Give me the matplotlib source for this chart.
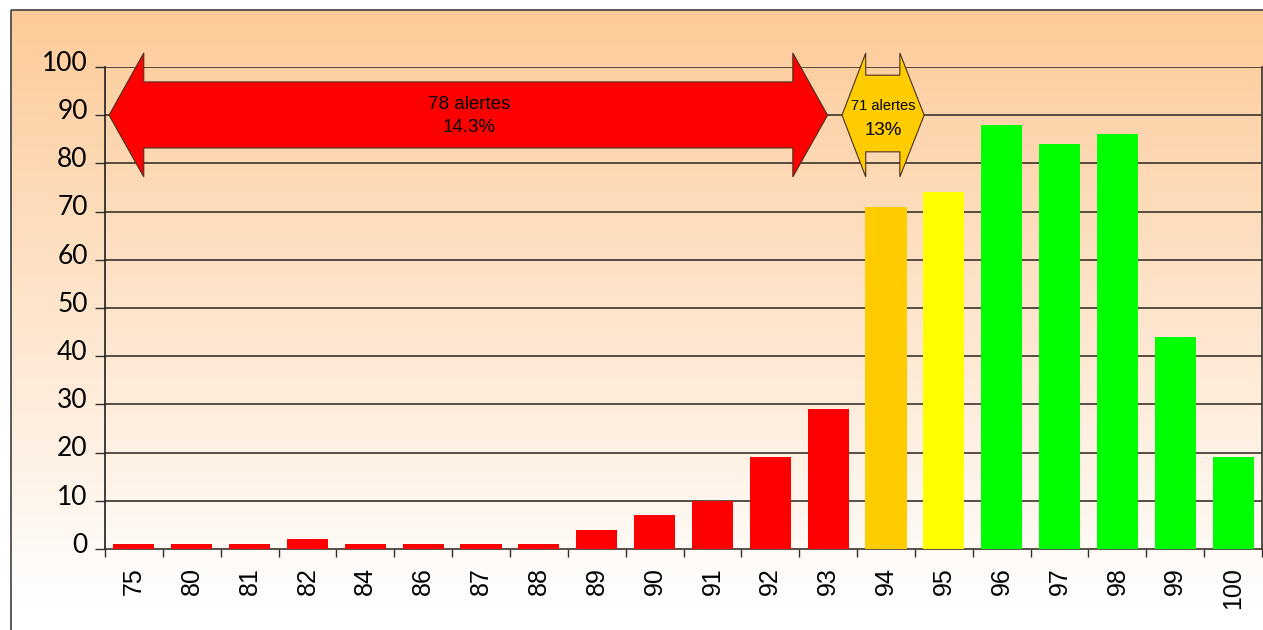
import matplotlib
matplotlib.use("Agg")
import matplotlib.pyplot as plt
import matplotlib.transforms as mtransforms
from matplotlib.patches import Polygon, Rectangle
import numpy as np

categories = ["75", "80", "81", "82", "84", "86", "87", "88", "89", "90",
              "91", "92", "93", "94", "95", "96", "97", "98", "99", "100"]
counts = [1, 1, 1, 2, 1, 1, 1, 1, 4, 7, 10, 19, 29, 71, 74, 88, 84, 86, 44, 19]
bar_colors = ["#FF0000"] * 13 + ["#FFCC00", "#FFFF00"] + ["#00FF00"] * 5
yticks = [0, 10, 20, 30, 40, 50, 60, 70, 80, 90, 100]
red_label = "78 alertes\n14.3%"
yellow_label_top = "71 alertes"
yellow_label_bottom = "13%"

W, H = 1263, 630
fig = plt.figure(figsize=(W / 100, H / 100), dpi=100)
fig.patch.set_facecolor("white")

# Background frame with gradient
bg = fig.add_axes([0, 0, 1, 1])
bg.set_xlim(0, W)
bg.set_ylim(H, 0)
bg.axis("off")
top_c = np.array([253, 203, 153]) / 255.0
bot_c = np.array([255, 255, 255]) / 255.0
t = np.linspace(0, 1, 256)[:, None]
grad = top_c[None, :] * (1 - t) + bot_c[None, :] * t
img = np.repeat(grad[:, None, :], 2, axis=1)
bg.imshow(img, extent=[11, W + 5, 610, 10], aspect="auto", zorder=0)
bg.add_patch(Rectangle((11, 10), W + 20, 700, fill=False, edgecolor="#404040", lw=1.2, zorder=1))

# Main axes
x0, x1 = 105, 1262
y_top, y_bot = 67, 549
ax = fig.add_axes([x0 / W, 1 - y_bot / H, (x1 - x0) / W, (y_bot - y_top) / H])
ax.patch.set_alpha(0)
n = len(categories)
x = np.arange(n)
ax.bar(x, counts, width=0.71, color=bar_colors, edgecolor="none", zorder=3)
ax.set_xlim(-0.5, n - 0.5)
ax.set_ylim(0, 100)
ax.set_yticks(yticks)
ax.set_yticklabels([str(v) for v in yticks], fontsize=19, family="Lato", color="#000000")
for yv in yticks[1:]:
    ax.axhline(yv, color="#3a332c", lw=1.2, zorder=2)
ax.tick_params(axis="y", length=7.5, width=1.0, color="#303030", pad=5, labelcolor="#000000")
offset = mtransforms.ScaledTranslation(0, 4.5 / 72.0, fig.dpi_scale_trans)
for lab in ax.get_yticklabels():
    lab.set_transform(lab.get_transform() + offset)

ax.set_xticks(x)
ax.set_xticklabels(categories, rotation=90, fontsize=18, family="Liberation Sans", color="#000000")
ax.tick_params(axis="x", length=0, pad=13)
ax.set_xticks(np.arange(n + 1) - 0.5, minor=True)
ax.tick_params(axis="x", which="minor", length=6, width=1.0, color="#303030")

ax.spines["top"].set_visible(False)
ax.spines["left"].set_color("#202020")
ax.spines["left"].set_linewidth(1.2)
ax.spines["bottom"].set_color("#3a332c")
ax.spines["bottom"].set_linewidth(1.2)
ax.spines["right"].set_color("#3a332c")
ax.spines["right"].set_linewidth(1.2)

# Double arrows (in data coordinates)
def double_arrow(xl, xhl, xhr, xr, ymid, sh_lo, sh_hi, hd_lo, hd_hi, color):
    pts = [
        (xl, ymid), (xhl, hd_hi), (xhl, sh_hi), (xhr, sh_hi), (xhr, hd_hi),
        (xr, ymid), (xhr, hd_lo), (xhr, sh_lo), (xhl, sh_lo), (xhl, hd_lo),
    ]
    p = Polygon(pts, closed=True, facecolor=color, edgecolor="#4a3020", lw=0.8,
                zorder=5, clip_on=False)
    ax.add_patch(p)

double_arrow(-0.43, 0.17, 11.39, 11.99, 90, 83.2, 96.9, 77.2, 102.9, "#FF0000")
double_arrow(12.24, 12.65, 13.24, 13.66, 90, 82.4, 98.3, 77.2, 102.9, "#FFCC00")

ax.text(5.79, 92.3, red_label.split("\n")[0], ha="center", va="center", fontsize=13.5,
        family="Liberation Sans", color="#000000", zorder=6)
ax.text(5.79, 87.4, red_label.split("\n")[1], ha="center", va="center", fontsize=13.5,
        family="Liberation Sans", color="#000000", zorder=6)
ax.text(12.95, 92.0, yellow_label_top, ha="center", va="center", fontsize=10.5,
        family="Liberation Sans", color="#000000", zorder=6)
ax.text(12.95, 86.8, yellow_label_bottom, ha="center", va="center", fontsize=13.5,
        family="Liberation Sans", color="#000000", zorder=6)

fig.savefig("out.png", dpi=100, facecolor="white")
